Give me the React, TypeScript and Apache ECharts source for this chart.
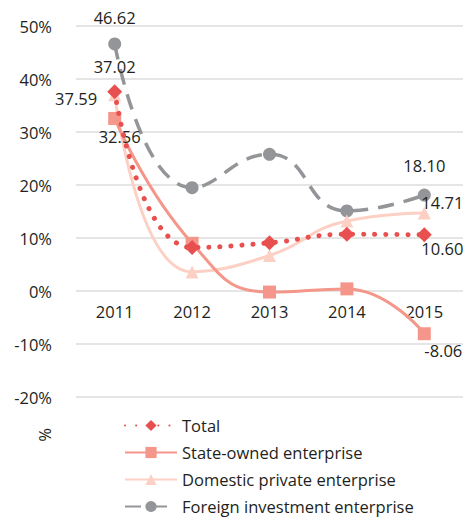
import React, { useEffect, useRef } from "react";
import * as echarts from "echarts";

const years = ["2011", "2012", "2013", "2014", "2015"];
const total = [37.59, 8.2, 9.1, 10.7, 10.6];
const stateOwned = [32.56, 9.0, -0.2, 0.4, -8.06];
const domesticPrivate = [37.02, 3.6, 6.7, 13.2, 14.71];
const foreign = [46.62, 19.5, 25.8, 15.1, 18.1];
const seriesNames = [
  "Total",
  "State-owned enterprise",
  "Domestic private enterprise",
  "Foreign investment enterprise",
];

const FONT = "'Open Sans', sans-serif";
const TXT = "#231F20";
const FS = 16.5;

function withLabels(values: number[], first: any, last: any) {
  return values.map((v, i) => {
    if (i === 0) return { value: v, label: { show: true, ...first } };
    if (i === values.length - 1) return { value: v, label: { show: true, ...last } };
    return { value: v };
  });
}

export default function App() {
  const ref = useRef<HTMLDivElement>(null);
  useEffect(() => {
    if (!ref.current) return;
    const chart = echarts.init(ref.current, undefined, { renderer: "svg" });
    const labelBase = {
      color: TXT,
      fontSize: FS,
      fontFamily: FONT,
      formatter: (p: any) => Number(p.value).toFixed(2),
    };
    chart.setOption({
      animation: false,
      textStyle: { fontFamily: FONT },
      grid: { left: 76, right: 13, top: 26, bottom: 120 },
      legend: {
        orient: "vertical",
        left: 119,
        top: 412,
        height: 130,
        itemWidth: 52,
        itemHeight: 14,
        itemGap: 10,
        data: seriesNames,
        textStyle: { color: TXT, fontSize: FS, fontFamily: FONT },
      },
      xAxis: {
        type: "category",
        data: years,
        boundaryGap: true,
        offset: -106,
        axisLine: { show: false },
        axisTick: { show: false },
        axisLabel: { color: TXT, fontSize: FS, fontFamily: FONT, margin: 12 },
      },
      yAxis: {
        type: "value",
        min: -20,
        max: 50,
        interval: 10,
        axisLine: { show: false },
        axisTick: { show: false },
        axisLabel: { color: TXT, fontSize: FS, fontFamily: FONT, formatter: "{value}%", margin: 24 },
        splitLine: { lineStyle: { color: "#DCDCDC", width: 1.5 } },
      },
      graphic: [
        {
          type: "text",
          x: 54,
          y: 428,
          rotation: -Math.PI / 2,
          style: { text: "%", fill: TXT, fontSize: FS, fontFamily: FONT },
        },
      ],
      series: [
        {
          name: seriesNames[3],
          type: "line",
          smooth: true,
          z: 1,
          symbol: "circle",
          symbolSize: 13,
          color: "#939598",
          lineStyle: { color: "#939598", width: 3.5, type: [16, 10] },
          itemStyle: { color: "#939598" },
          label: labelBase,
          data: withLabels(
            foreign,
            { position: "top", distance: 11 },
            { position: "top", distance: 15 }
          ),
        },
        {
          name: seriesNames[2],
          type: "line",
          smooth: true,
          z: 2,
          symbol: "triangle",
          symbolSize: 13,
          color: "#FCD0C4",
          lineStyle: { color: "#FCD0C4", width: 3 },
          itemStyle: { color: "#FCD0C4" },
          label: labelBase,
          data: withLabels(
            domesticPrivate,
            { position: "top", distance: 13 },
            { position: "top", distance: 2, offset: [18, 6] }
          ),
        },
        {
          name: seriesNames[1],
          type: "line",
          smooth: true,
          z: 3,
          symbol: "rect",
          symbolSize: 13,
          color: "#F4978A",
          lineStyle: { color: "#F4978A", width: 3 },
          itemStyle: { color: "#F4978A" },
          label: labelBase,
          data: withLabels(
            stateOwned,
            { position: "bottom", distance: 3, offset: [5, 0] },
            { position: "bottom", distance: 2, offset: [19, 0] }
          ),
        },
        {
          name: seriesNames[0],
          type: "line",
          smooth: true,
          z: 4,
          symbol: "diamond",
          symbolSize: 15,
          color: "#E8504F",
          lineStyle: { color: "#E8504F", width: 5, type: [0.1, 11], cap: "round" },
          itemStyle: { color: "#E8504F" },
          label: labelBase,
          data: withLabels(
            total,
            { position: "left", distance: 10, offset: [0, 7] },
            { position: "bottom", distance: 0, offset: [18, -2] }
          ),
        },
      ],
    });
    return () => chart.dispose();
  }, []);
  return <div ref={ref} style={{ width: 476, height: 517, margin: "-8px 0 0 -8px" }} />;
}
